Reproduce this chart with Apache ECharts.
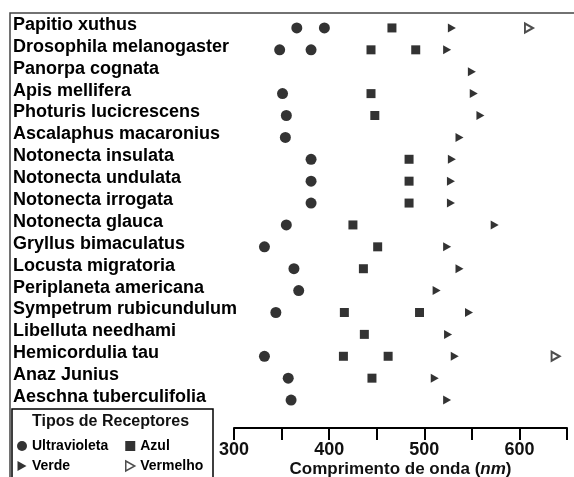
<!DOCTYPE html>
<html>
<head>
<meta charset="utf-8">
<script src="https://cdn.jsdelivr.net/npm/echarts@6/dist/echarts.min.js"></script>
<style>
html,body{margin:0;padding:0;background:#fff;}
#c{width:574px;height:477px;}
</style>
</head>
<body>
<div id="c"></div>
<script>
var species = ['Papitio xuthus','Drosophila melanogaster','Panorpa cognata','Apis mellifera','Photuris lucicrescens','Ascalaphus macaronius','Notonecta insulata','Notonecta undulata','Notonecta irrogata','Notonecta glauca','Gryllus bimaculatus','Locusta migratoria','Periplaneta americana','Sympetrum rubicundulum','Libelluta needhami','Hemicordulia tau','Anaz Junius','Aeschna tuberculifolia'];
var ultraviolet = [[366,395],[348,381],[],[351],[355],[354],[381],[381],[381],[355],[332],[363],[368],[344],[],[332],[357],[360]];
var blue = [[466],[444,491],[],[444],[448],[],[484],[484],[484],[425],[451],[436],[],[416,495],[437],[415,462],[445],[]];
var green = [[529],[524],[550],[552],[559],[537],[529],[528],[528],[574],[524],[537],[513],[547],[525],[532],[511],[524]];
var red = [[610],[],[],[],[],[],[],[],[],[],[],[],[],[],[],[638],[],[]];
var xTicks = [300,400,500,600];

function build(arr){
  var out = [];
  arr.forEach(function(vals,i){ vals.forEach(function(v){ out.push([v, species[i]]); }); });
  return out;
}
var off = [0,3];
var triPath = 'path://M0,0 L9,5 L0,10 Z';
var legendText = {fontSize:14,fontWeight:'bold',color:'#000'};
var chart = echarts.init(document.getElementById('c'));
chart.setOption({
  animation:false,
  textStyle:{fontFamily:'Liberation Sans'},
  grid:{left:234,right:7,top:14,bottom:69,outerBoundsMode:'none',containLabel:false},
  title:{text:'Tipos de Receptores',left:32,top:414,padding:0,textStyle:{fontSize:16,fontWeight:'bold',color:'#111',fontFamily:'Liberation Sans'}},
  legend:[
    {data:[{name:'Ultravioleta',icon:'circle'},{name:'Verde',icon:triPath}],orient:'vertical',left:17,top:439,padding:0,itemWidth:10,itemHeight:10,itemGap:6,
     textStyle:legendText},
    {data:[{name:'Azul',icon:'rect',itemStyle:{}},{name:'Vermelho',icon:triPath,itemStyle:{color:'#fff',borderColor:'#222',borderWidth:1.5}}],orient:'vertical',left:125,top:439,padding:0,itemWidth:10,itemHeight:10,itemGap:6,
     textStyle:legendText}
  ],
  xAxis:{type:'value',min:300,max:650,interval:50,offset:20,
    axisLine:{show:true,lineStyle:{color:'#000',width:2}},
    axisTick:{show:true,length:12,lineStyle:{color:'#000',width:2}},
    splitLine:{show:false},
    axisLabel:{margin:13,fontSize:18,fontWeight:'bold',color:'#111',
      formatter:function(v){return xTicks.indexOf(v)>=0?String(v):'';}},
    name:'Comprimento de onda ({i|nm})',nameLocation:'middle',nameGap:33,nameMoveOverlap:false,
    nameTextStyle:{fontSize:17,fontWeight:'bold',color:'#111',
      rich:{i:{fontSize:17,fontWeight:'bold',fontStyle:'italic',color:'#111'}}}
  },
  yAxis:{type:'category',data:species,inverse:true,
    axisLine:{show:false},axisTick:{show:false},splitLine:{show:false},
    axisLabel:{interval:0,align:'left',margin:221,fontSize:18,fontWeight:'bold',color:'#000'}},
  series:[
    {name:'Ultravioleta',type:'scatter',symbol:'circle',symbolSize:11,symbolOffset:off,itemStyle:{color:'#000'},data:build(ultraviolet)},
    {name:'Azul',type:'scatter',symbol:'rect',symbolSize:9,symbolOffset:off,itemStyle:{color:'#000'},data:build(blue)},
    {name:'Verde',type:'scatter',symbol:'triangle',symbolRotate:-90,symbolSize:[9,8],symbolOffset:off,itemStyle:{color:'#000'},data:build(green)},
    {name:'Vermelho',type:'scatter',symbol:'emptyTriangle',symbolRotate:-90,symbolSize:[9,8],symbolOffset:off,itemStyle:{color:'#222',borderWidth:1.5},data:build(red)}
  ],
  graphic:[
    {type:'polyline',shape:{points:[[10,477],[10,13],[574,13]]},style:{stroke:'#444',lineWidth:1.5,fill:null}},
    {type:'rect',shape:{x:12,y:409,width:201,height:80},style:{stroke:'#000',lineWidth:1.5,fill:null}}
  ]
});
</script>
</body>
</html>
